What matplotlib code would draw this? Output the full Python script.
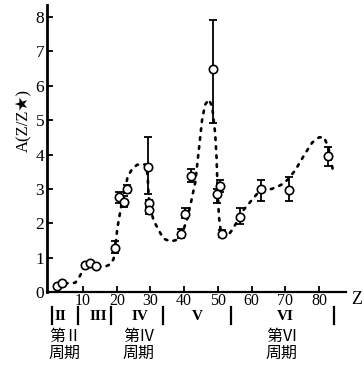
import matplotlib
matplotlib.use("Agg")
import matplotlib.pyplot as plt
import numpy as np

# ---- data ----
pt_z = [2.3, 3.8, 10.5, 12.2, 13.9, 19.6, 20.8, 22.0, 22.9, 29.2, 29.5, 29.5,
        39.1, 40.1, 42.0, 48.4, 49.6, 50.7, 51.2, 56.5, 62.8, 71.0, 82.6]
pt_a = [0.17, 0.27, 0.80, 0.83, 0.76, 1.29, 2.75, 2.63, 3.00, 3.64, 2.59, 2.38,
        1.70, 2.26, 3.37, 6.50, 2.84, 3.08, 1.70, 2.19, 3.01, 2.98, 3.96]
err_lo = [0, 0, 0, 0, 0, 0.15, 0.15, 0.15, 0.12, 0.79, 0.10, 0.10,
          0.12, 0.12, 0.18, 1.58, 0.26, 0.18, 0.10, 0.20, 0.36, 0.33, 0.30]
err_hi = [0, 0, 0, 0, 0, 0.18, 0.15, 0.15, 0.12, 0.86, 0.10, 0.10,
          0.12, 0.18, 0.20, 1.42, 0.15, 0.18, 0.10, 0.25, 0.24, 0.37, 0.27]

curve_z = [2.3, 3.8, 6.0, 7.7, 8.7, 9.5, 10.5, 12.0, 14.0, 15.6, 17.1, 18.4, 19.1,
           19.6, 20.1, 20.6, 21.5, 22.5, 23.2, 24.5, 26.0, 27.5, 28.8, 29.2, 29.4,
           29.6, 30.2, 30.9, 32.4, 33.9, 36.0, 37.9, 39.2, 40.8, 42.0, 43.3, 44.3,
           45.3, 46.2, 47.3, 48.3, 49.2, 49.6, 49.9, 50.3, 50.8, 51.5, 53.0, 54.2,
           56.0, 57.7, 59.0, 60.1, 62.0, 64.0, 66.0, 68.0, 69.5, 71.0, 73.0, 74.5,
           76.0, 78.0, 80.0, 81.5, 82.8, 84.2]
curve_a = [0.17, 0.27, 0.25, 0.27, 0.40, 0.55, 0.80, 0.84, 0.78, 0.72, 0.76, 0.83, 0.98,
           1.30, 1.80, 2.10, 2.60, 3.00, 3.35, 3.57, 3.70, 3.72, 3.70, 3.30, 2.90,
           2.60, 2.35, 2.09, 1.80, 1.55, 1.47, 1.52, 1.65, 2.10, 2.60, 3.20, 4.10,
           5.00, 5.45, 5.60, 5.40, 4.60, 3.90, 3.00, 2.20, 1.80, 1.62, 1.65, 1.80,
           2.10, 2.40, 2.55, 2.68, 2.90, 2.97, 3.00, 3.08, 3.16, 3.30, 3.55, 3.80,
           4.05, 4.35, 4.50, 4.50, 4.20, 3.50]

x_ticks = [10, 20, 30, 40, 50, 60, 70, 80]
y_ticks = [0, 1, 2, 3, 4, 5, 6, 7, 8]

row_labels = ["II", "III", "IV", "V", "VI"]
row_label_z = [3.2, 14.5, 26.9, 43.8, 69.9]
bar_z = [0.7, 8.6, 18.2, 33.8, 53.9, 84.3]
period_labels = ["第Ⅱ\n周期", "第Ⅳ\n周期", "第Ⅵ\n周期"]
period_z = [4.6, 26.5, 69.0]

W, H = 364, 367
fig = plt.figure(figsize=(W / 100, H / 100), dpi=100)
ax = fig.add_axes([47 / W, (H - 292) / H, (346 - 47) / W, (292 - 5) / H])
ax.set_xlim(-0.7, 88.0)
ax.set_ylim(0, 8.35)

ax.plot(curve_z, curve_a, color="black", lw=1.9, linestyle=(0, (1.0, 2.4)),
        dash_capstyle="round", zorder=2)
ax.errorbar(pt_z, pt_a, yerr=[err_lo, err_hi], fmt="none", ecolor="black",
            elinewidth=1.3, capsize=2.6, capthick=1.3, zorder=3)
ax.plot(pt_z, pt_a, "o", ms=6, mfc="white", mec="black", mew=1.2, zorder=4)

for s in ["top", "right"]:
    ax.spines[s].set_visible(False)
ax.spines["left"].set_linewidth(2.0)
ax.spines["bottom"].set_linewidth(1.6)

serif = "Liberation Serif"
ax.set_xticks(x_ticks)
ax.set_yticks(y_ticks)
ax.tick_params(axis="both", direction="in", length=4, width=1.3)
ax.set_xticklabels([str(t) for t in x_ticks], fontsize=11.5, family=serif)
ax.set_yticklabels([str(t) for t in y_ticks], fontsize=12.5, family=serif)
ax.tick_params(axis="x", pad=1)
ax.tick_params(axis="y", pad=2)

fig.text(23 / W, 1 - 121 / H, "A(Z/Z★)", rotation=90, ha="center", va="center",
         fontsize=12, family=[serif, "DejaVu Sans"])
fig.text(357 / W, 1 - 300 / H, "Z", ha="center", va="center", fontsize=13,
         family=serif)

trans = ax.get_xaxis_transform()
for lab, z in zip(row_labels, row_label_z):
    ax.text(z, -(317 - 292) / 287, lab, transform=trans, ha="center", va="center",
            fontsize=11, family=serif, fontweight="bold", clip_on=False)
for z in bar_z:
    ax.plot([z, z], [-(307 - 292) / 287, -(324 - 292) / 287], transform=trans,
            color="black", lw=1.6, clip_on=False)
for lab, z in zip(period_labels, period_z):
    ax.text(z, -(345 - 292) / 287, lab, transform=trans, ha="center", va="center",
            fontsize=11.5, family=["Noto Sans CJK SC", "DejaVu Sans"],
            linespacing=1.0, clip_on=False)

fig.savefig("out.png", dpi=100)
